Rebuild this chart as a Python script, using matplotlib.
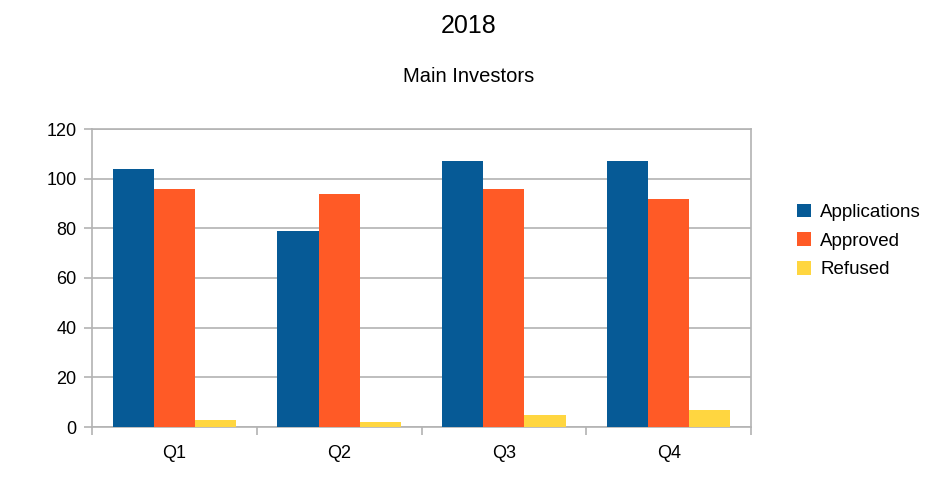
import numpy as np
import matplotlib.pyplot as plt

plt.rcParams['font.family'] = ['Liberation Sans', 'DejaVu Sans']

quarters = ['Q1', 'Q2', 'Q3', 'Q4']
applications = [104, 79, 107, 107]
approved = [96, 94, 96, 92]
refused = [3, 2, 5, 7]

series = [('Applications', applications, '#065a96'),
          ('Approved', approved, '#ff5a26'),
          ('Refused', refused, '#ffd640')]

fig = plt.figure(figsize=(9.38, 4.84), dpi=100)
ax = fig.add_axes([92 / 938, 57 / 484, 659 / 938, 298 / 484])

x = np.arange(len(quarters))
w = 0.25
for i, (name, vals, col) in enumerate(series):
    ax.bar(x + (i - 1) * w, vals, w, color=col, label=name, zorder=3)

ax.set_xlim(-0.5, len(quarters) - 0.5)
ax.set_ylim(0, 120)
ax.set_yticks(range(0, 121, 20))
ax.set_xticks(x)
ax.set_xticklabels(quarters)
ax.set_xticks(np.arange(-0.5, len(quarters), 1), minor=True)

grey = '#b3b3b3'
ax.grid(axis='y', color=grey, linewidth=1.2, zorder=0)
for s in ax.spines.values():
    s.set_color(grey)
    s.set_linewidth(1.2)
ax.tick_params(axis='x', which='major', length=0, labelsize=13, pad=13)
ax.tick_params(axis='x', which='minor', length=6, color=grey, width=1.2)
ax.tick_params(axis='y', length=6, color=grey, width=1.2, labelsize=13, pad=5)

fig.text(0.5, 1 - 26 / 484, '2018', ha='center', va='center', fontsize=18)
fig.text(0.5, 1 - 77 / 484, 'Main Investors', ha='center', va='center', fontsize=14.5)

fig.legend(loc='center left', bbox_to_anchor=(780 / 938, 1 - 241 / 484),
           frameon=False, fontsize=13.5, handlelength=0.75, handleheight=0.75,
           handletextpad=0.5, labelspacing=0.6)

fig.savefig('out.png', dpi=100)
